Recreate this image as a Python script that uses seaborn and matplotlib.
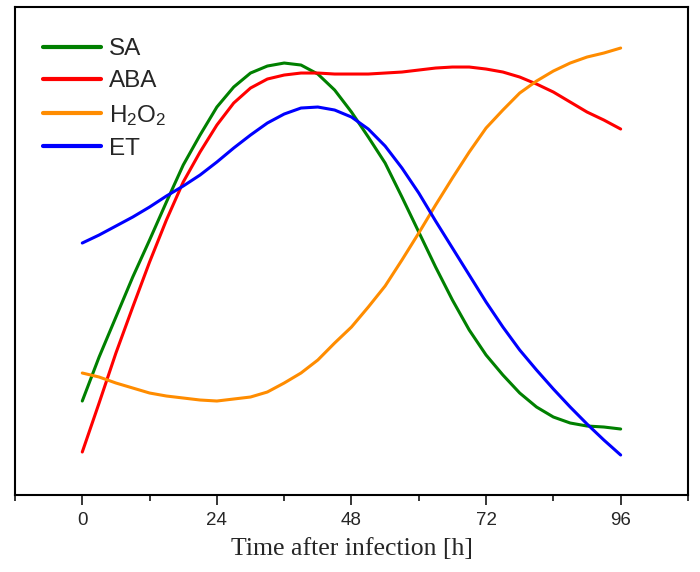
import numpy as np
import pandas as pd
import matplotlib
matplotlib.use("Agg")
import matplotlib.pyplot as plt
import seaborn as sns
from matplotlib.ticker import MultipleLocator

hours = [0, 3, 6, 9, 12, 15, 18, 21, 24, 27, 30, 33, 36, 39, 42, 45, 48,
         51, 54, 57, 60, 63, 66, 69, 72, 75, 78, 81, 84, 87, 90, 93, 96]
sa   = [94, 138, 178, 218, 255, 293, 330, 360, 388, 408, 422, 429, 432, 430, 421, 405, 383,
        358, 332, 298, 263, 228, 195, 165, 140, 120, 102, 88, 78, 72, 69, 68, 66]
aba  = [43, 92, 142, 188, 233, 275, 313, 343, 370, 392, 407, 416, 420, 422, 422, 421, 421,
        421, 422, 423, 425, 427, 428, 428, 426, 423, 418, 411, 403, 393, 383, 375, 366]
h2o2 = [122, 118, 112, 107, 102, 99, 97, 95, 94, 96, 98, 103, 112, 122, 135, 152, 168,
        188, 209, 235, 262, 290, 317, 343, 367, 385, 402, 414, 424, 432, 438, 442, 447]
et   = [252, 260, 269, 278, 288, 299, 309, 320, 333, 347, 360, 372, 381, 387, 388, 385, 378,
        366, 349, 327, 302, 274, 247, 220, 193, 168, 145, 125, 106, 88, 71, 55, 40]

series_names = ["SA", "ABA", "H$_2$O$_2$", "ET"]
colors = ["#008000", "#FF0000", "#FF8C00", "#0000FF"]
xticks = [0, 24, 48, 72, 96]
xlabel = "Time after infection [h]"

df = pd.concat([
    pd.DataFrame({"h": hours, "v": vals, "s": name})
    for name, vals in zip(series_names, [sa, aba, h2o2, et])
])

sns.set_style("ticks")
plt.rcParams["font.family"] = ["Liberation Sans", "DejaVu Sans"]
plt.rcParams["mathtext.default"] = "regular"

fig = plt.figure(figsize=(7.0, 5.72), dpi=100)
ax = fig.add_axes([0.0214, 0.1346, 0.9614, 0.8531])

sns.lineplot(data=df, x="h", y="v", hue="s", hue_order=series_names,
             palette=colors, linewidth=2.2, ax=ax, legend=True, sort=True)

ax.set_xlim(-12, 108)
ax.set_ylim(0, 488)
ax.xaxis.set_major_locator(MultipleLocator(24))
ax.xaxis.set_minor_locator(MultipleLocator(12))
ax.set_xticks(xticks)
ax.set_xticklabels([str(t) for t in xticks])
ax.set_yticks([])
ax.set_ylabel("")
ax.set_xlabel(xlabel, family=["Liberation Serif"], fontsize=18.5, labelpad=7)
ax.tick_params(axis="x", which="major", direction="out", length=7, width=1.3,
               labelsize=13.5, pad=5)
ax.tick_params(axis="x", which="minor", direction="out", length=4, width=1.3)
for sp in ax.spines.values():
    sp.set_visible(True)
    sp.set_linewidth(1.5)
    sp.set_color("black")

handles, labels = ax.get_legend_handles_labels()
leg = ax.legend(handles, labels, loc="upper left", frameon=False,
                fontsize=17.5, handlelength=2.4, handletextpad=0.3,
                labelspacing=0.42, borderaxespad=0.2,
                bbox_to_anchor=(0.02, 0.966))
for line in leg.get_lines():
    line.set_linewidth(3)

fig.savefig("out.png", dpi=100)
